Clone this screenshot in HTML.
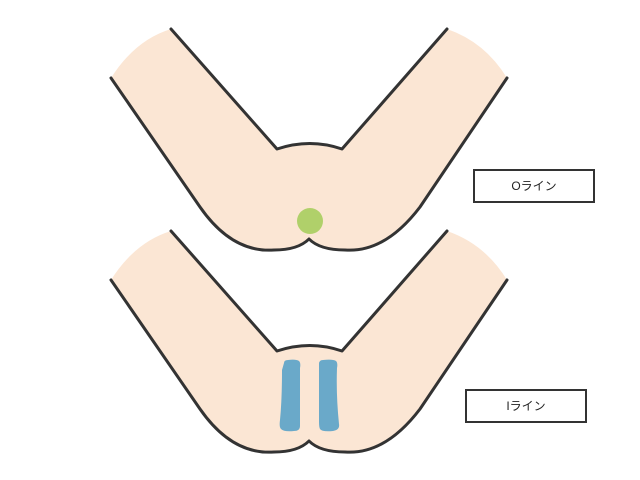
<!DOCTYPE html>
<html><head><meta charset="utf-8"><style>
html,body{margin:0;padding:0;background:#fff;}
.box{position:absolute;border:2px solid #333;background:#fff;font-family:"Liberation Sans","Noto Sans CJK JP",sans-serif;font-size:12px;text-align:center;color:#222;box-sizing:border-box;}
</style></head><body>
<div style="position:relative;width:640px;height:480px;overflow:hidden">
<svg width="640" height="480" style="position:absolute;left:0;top:0">
<defs>
<g id="body">
<path d="M111,78 Q135,40 171,29 L277,149 Q310,138 342,149 L447,29 Q485,42 507,78 L420,207 Q385,253 345,250 Q320,250 309,239 Q298,250 274,250 Q232,253 200,207 Z" fill="#fbe6d4"/>
<path d="M111,78 L200,207 Q232,253 274,250 Q298,250 309,239 Q320,250 345,250 Q385,253 420,207 L507,78" fill="none" stroke="#333" stroke-width="3" stroke-linejoin="round" stroke-linecap="round"/>
<path d="M171,29 L277,149 Q310,138 342,149 L447,29" fill="none" stroke="#333" stroke-width="3" stroke-linejoin="round" stroke-linecap="round"/>
</g>
</defs>
<use href="#body"/>
<use href="#body" transform="translate(0,202)"/>
<circle cx="310" cy="221" r="13" fill="#b0d06a"/>
<path d="M284,363 Q284,360 288,360 Q296,359 299,361 Q301,363 300,368 L300,426 Q300,431 294,431 Q284,432 281,429 Q279,427 280,420 Q282,400 282,370 Z" fill="#6aa9c9"/>
<path d="M319,364 Q319,360 323,360 Q333,359 336,361 Q338,363 337,368 Q336,395 339,424 Q340,430 333,431 Q322,432 320,429 Q319,427 319,422 Z" fill="#6aa9c9"/>
</svg>
<div class="box" style="left:473px;top:169px;width:122px;height:34px;line-height:30px">Oライン</div>
<div class="box" style="left:465px;top:389px;width:122px;height:34px;line-height:30px">Iライン</div>
</div>
</body></html>
